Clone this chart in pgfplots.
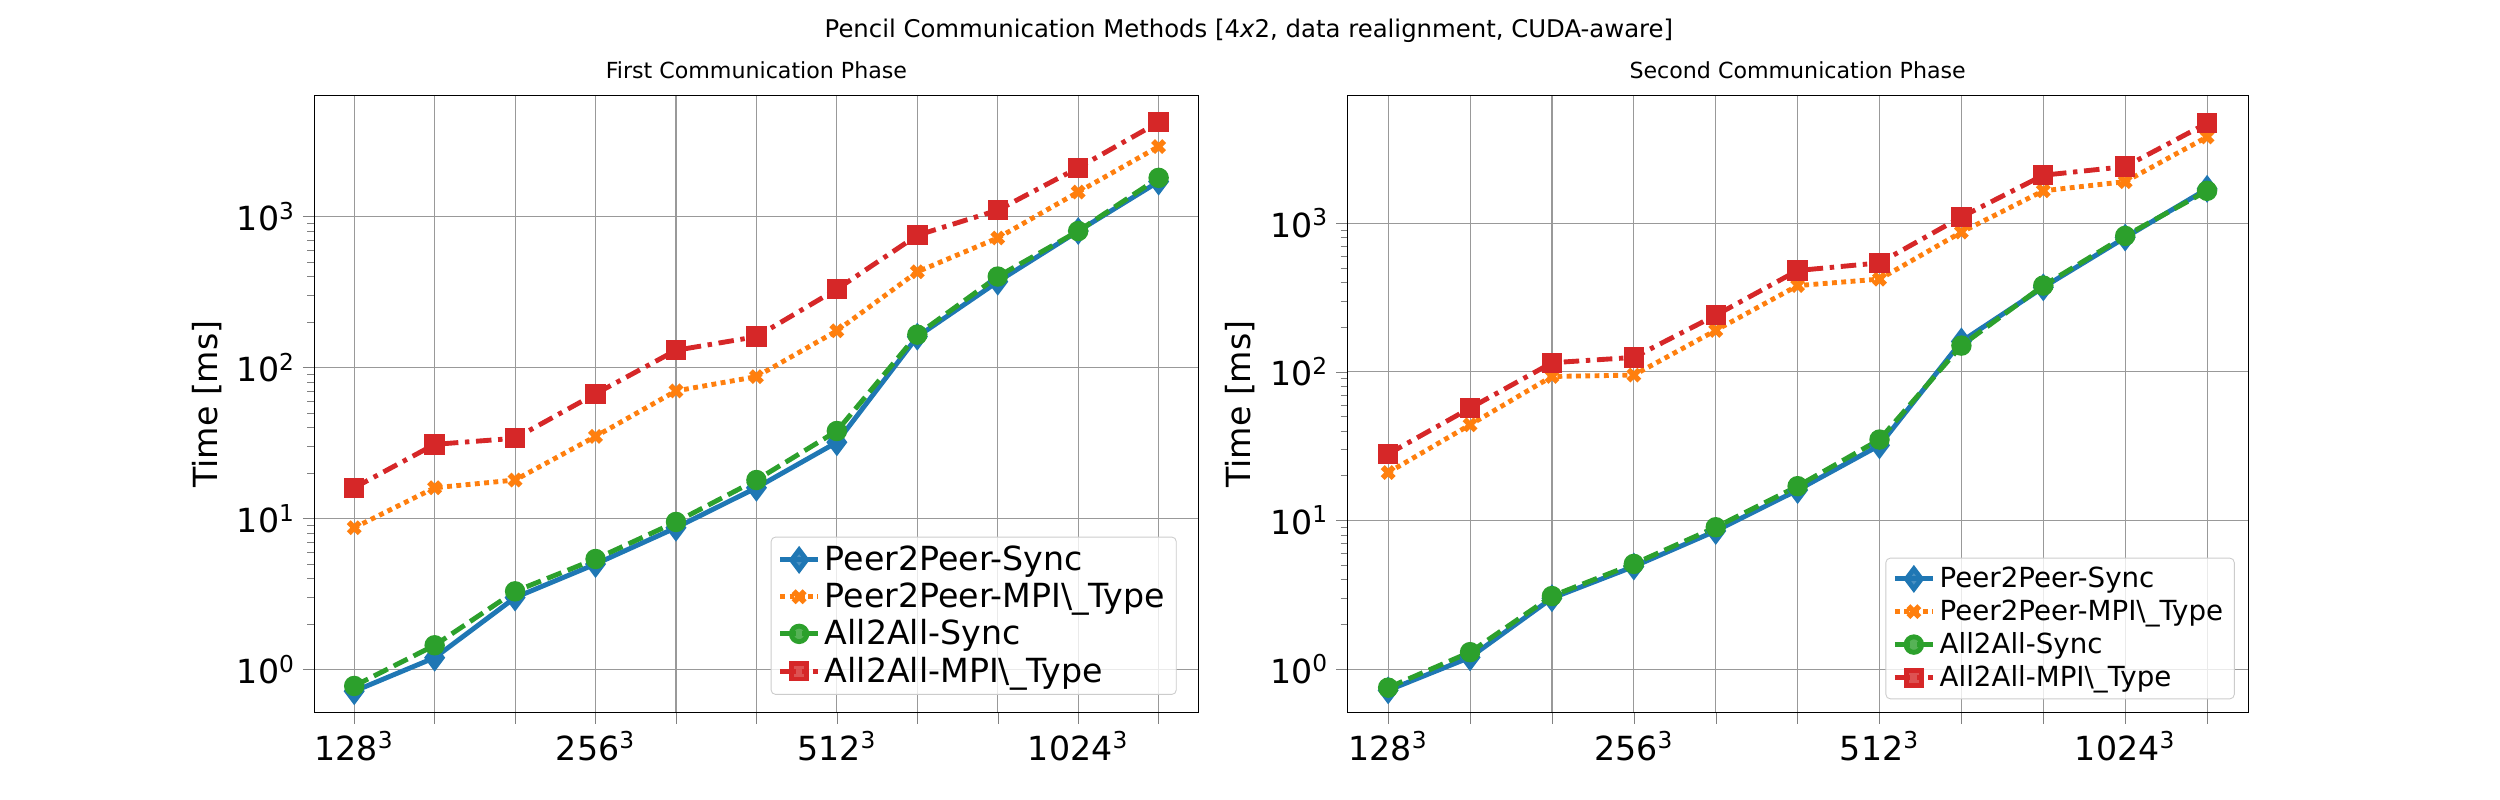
\documentclass[border=0pt]{standalone}
\usepackage{pgfplots}
\pgfplotsset{compat=1.18}
\usepackage{fontspec}
\setmainfont{DejaVu Sans}
\definecolor{tblue}{HTML}{1F77B4}
\definecolor{torange}{HTML}{FF7F0E}
\definecolor{tgreen}{HTML}{2CA02C}
\definecolor{tred}{HTML}{D62728}
\tikzset{
  s1/.style={tblue, line width=2.2pt, mark=diamond*, mark size=4.5pt, mark options={solid}},
  s2/.style={torange, line width=2.2pt, dotted, mark=x, mark size=3.5pt, mark options={solid, line width=2.5pt}},
  s3/.style={tgreen, line width=2.2pt, dash pattern=on 7pt off 3pt, mark=*, mark size=3.5pt, mark options={solid}},
  s4/.style={tred, line width=2.2pt, dash pattern=on 7pt off 3pt on 2pt off 3pt, mark=square*, mark size=3.5pt, mark options={solid}},
}
\pgfplotsset{every axis/.append style={
    scale only axis, height=278.6pt,
    xmin=-0.5, xmax=10.5,
    xtick={0,...,10},
    xticklabels={128\textsuperscript{3},,,256\textsuperscript{3},,,512\textsuperscript{3},,,1024\textsuperscript{3},},
    ytick={1,10,100,1000},
    yticklabels={10\textsuperscript{0},10\textsuperscript{1},10\textsuperscript{2},10\textsuperscript{3}},
    ticklabel style={font=\fontsize{15}{18}\selectfont},
    grid=major, major grid style={gray!80, line width=0.5pt},
    major tick length=5pt, minor tick length=3pt,
    tick align=outside, tick pos=left,
    title style={font=\fontsize{10}{12}\selectfont, yshift=-2pt},
    ylabel style={font=\fontsize{15}{18}\selectfont},
    legend cell align=left,
    legend style={at={(1,0)}, anchor=south east, draw=gray!40, rounded corners=2pt, fill=white, fill opacity=0.8, text opacity=1},
}}
\begin{document}
\begin{tikzpicture}
\path (0,0) rectangle (1129pt,361pt);
\node[font=\fontsize{11}{13}\selectfont] at (564pt,347pt) {Pencil Communication Methods [4\textit{x}2, data realignment, CUDA-aware]};
\begin{semilogyaxis}[at={(141.8pt,39.2pt)}, anchor=south west, width=399.6pt,
  ymin=0.52, ymax=6300,
  title={First Communication Phase}, ylabel={Time [ms]},
  legend style={font=\fontsize{15}{19}\selectfont, xshift=-10pt, yshift=8pt}]
\addplot[s1] coordinates {(0,0.72)(1,1.2)(2,3.0)(3,5.0)(4,8.7)(5,16)(6,32)(7,160)(8,370)(9,800)(10,1700)};
\addplot[s2] coordinates {(0,8.7)(1,16)(2,18)(3,35)(4,70)(5,87)(6,175)(7,430)(8,720)(9,1450)(10,2900)};
\addplot[s3] coordinates {(0,0.78)(1,1.45)(2,3.3)(3,5.4)(4,9.5)(5,18)(6,38)(7,165)(8,400)(9,800)(10,1800)};
\addplot[s4] coordinates {(0,16)(1,31)(2,34)(3,67)(4,130)(5,160)(6,330)(7,750)(8,1100)(9,2100)(10,4200)};
\legend{Peer2Peer-Sync,Peer2Peer-MPI\textbackslash\_Type,All2All-Sync,All2All-MPI\textbackslash\_Type}
\end{semilogyaxis}
\begin{semilogyaxis}[at={(608.4pt,39.2pt)}, anchor=south west, width=406.8pt,
  ymin=0.51, ymax=7200,
  title={Second Communication Phase}, ylabel={Time [ms]},
  legend style={font=\fontsize{12.5}{16}\selectfont, xshift=-6pt, yshift=6pt}]
\addplot[s1] coordinates {(0,0.72)(1,1.2)(2,3.0)(3,4.9)(4,8.5)(5,16)(6,32)(7,160)(8,370)(9,800)(10,1700)};
\addplot[s2] coordinates {(0,21)(1,44)(2,93)(3,95)(4,190)(5,380)(6,420)(7,870)(8,1650)(9,1900)(10,3800)};
\addplot[s3] coordinates {(0,0.75)(1,1.3)(2,3.1)(3,5.1)(4,9.0)(5,17)(6,35)(7,150)(8,380)(9,820)(10,1650)};
\addplot[s4] coordinates {(0,28)(1,57)(2,115)(3,125)(4,240)(5,480)(6,540)(7,1100)(8,2100)(9,2400)(10,4700)};
\legend{Peer2Peer-Sync,Peer2Peer-MPI\textbackslash\_Type,All2All-Sync,All2All-MPI\textbackslash\_Type}
\end{semilogyaxis}
\end{tikzpicture}
\end{document}
